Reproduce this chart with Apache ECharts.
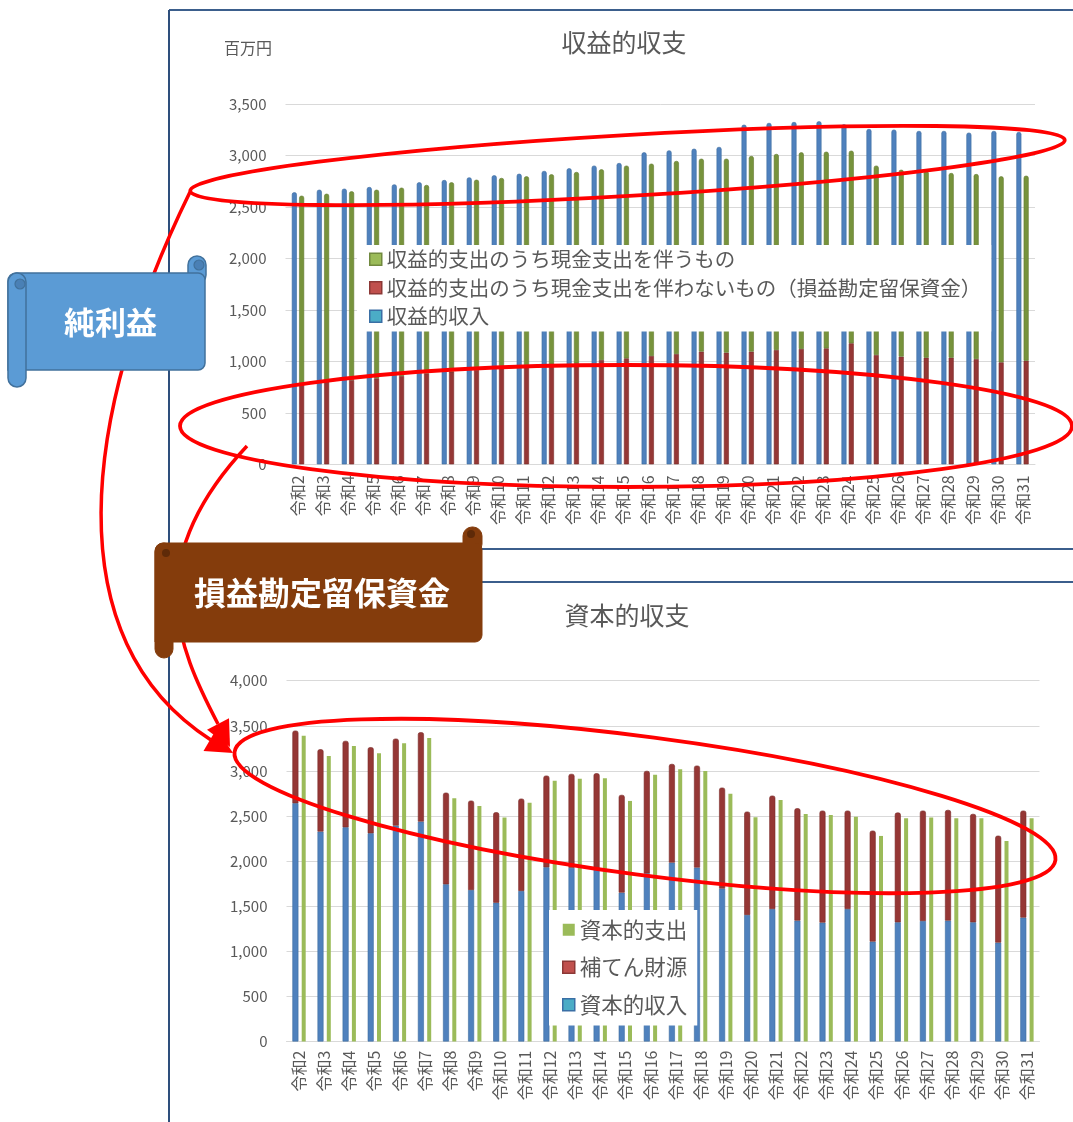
<!DOCTYPE html>
<html><head><meta charset="utf-8">
<script src="https://cdn.jsdelivr.net/npm/echarts@6/dist/echarts.min.js"></script>
<style>html,body{margin:0;padding:0;background:#fff}#c{width:1073px;height:1122px}</style>
</head><body><div id="c"></div>
<script>
const categories = ['令和2','令和3','令和4','令和5','令和6','令和7','令和8','令和9','令和10','令和11','令和12','令和13','令和14','令和15','令和16','令和17','令和18','令和19','令和20','令和21','令和22','令和23','令和24','令和25','令和26','令和27','令和28','令和29','令和30','令和31'];

// 収益的収支 (百万円)
const revIncome  = [2641,2666,2676,2692,2718,2738,2760,2786,2806,2821,2848,2874,2900,2925,3029,3048,3064,3081,3297,3314,3323,3330,3301,3255,3249,3236,3236,3220,3236,3226];
const revNonCash = [786,802,818,835,857,883,899,916,932,948,971,981,1013,1029,1052,1071,1094,1084,1094,1110,1120,1126,1175,1061,1045,1035,1035,1022,990,1006];
const revCash    = [1822,1825,1833,1831,1829,1829,1839,1847,1848,1848,1845,1857,1851,1871,1867,1874,1873,1883,1899,1903,1909,1909,1870,1839,1815,1813,1793,1796,1806,1796];

// 資本的収支 (百万円)
const capIncome     = [2642,2327,2375,2309,2393,2438,1743,1680,1539,1669,1932,1925,1913,1650,1865,1983,1928,1695,1403,1469,1340,1318,1469,1107,1322,1336,1340,1322,1096,1373];
const capSupplement = [805,913,958,954,965,991,1016,991,1003,1024,1016,1042,1061,1084,1135,1094,1131,1120,1146,1257,1246,1242,1091,1231,1216,1224,1227,1201,1186,1187];
const capExpense    = [3391,3166,3277,3196,3307,3366,2697,2612,2482,2648,2892,2914,2919,2667,2956,3018,3000,2748,2486,2678,2523,2512,2493,2279,2475,2482,2475,2475,2223,2475];

const revTicks = {min:0, max:3500, interval:500};
const capTicks = {min:0, max:4000, interval:500};

const FONT = '"Noto Sans CJK JP", "Noto Sans", sans-serif';
const GRAY = '#595959';
const N_REV_CASH = '収益的支出のうち現金支出を伴うもの';
const N_REV_NON = '収益的支出のうち現金支出を伴わないもの（損益勘定留保資金）';
const N_REV_IN = '収益的収入';
const N_CAP_EX = '資本的支出';
const N_CAP_SUP = '補てん財源';
const N_CAP_IN = '資本的収入';

function yAxis(t, gi){
  return {type:'value', gridIndex:gi, min:t.min, max:t.max, interval:t.interval,
    axisLine:{show:false}, axisTick:{show:false},
    splitLine:{lineStyle:{color:'#D9D9D9', width:1}},
    axisLabel:{color:GRAY, fontSize:15, fontFamily:FONT, margin:19,
      formatter:v=>v.toLocaleString('en-US')}};
}
function xAxis(gi, margin){
  return {type:'category', gridIndex:gi, data:categories,
    axisLine:{lineStyle:{color:'#D9D9D9'}}, axisTick:{show:false},
    axisLabel:{interval:0, rotate:90, color:GRAY, fontSize:16, fontFamily:FONT, margin:margin}};
}

const RED_STROKE = {stroke:'#FF0000', lineWidth:3.8, fill:null};

const option = {
  animation:false,
  backgroundColor:'#fff',
  grid:[
    {left:285.5, right:38, top:103.8, height:360.5},
    {left:286.5, right:33.5, top:680.7, height:360.8}
  ],
  xAxis:[xAxis(0,11), xAxis(1,9)],
  yAxis:[yAxis(revTicks,0), yAxis(capTicks,1)],
  legend:[
    {orient:'vertical', left:357, top:245, padding:[4,10,5,12], itemGap:8,
     itemWidth:12, itemHeight:12, icon:'rect', backgroundColor:'#fff', selectedMode:false,
     textStyle:{color:GRAY, fontSize:20.5, fontFamily:FONT},
     data:[
       {name:N_REV_CASH, itemStyle:{color:'#9BBB59', borderColor:'#71893F', borderWidth:1.5}},
       {name:N_REV_NON, itemStyle:{color:'#C0504D', borderColor:'#8C3836', borderWidth:1.5}},
       {name:N_REV_IN, itemStyle:{color:'#4BACC6', borderColor:'#3A6FA5', borderWidth:1.5}}
     ]},
    {orient:'vertical', left:549, top:910, padding:[9,10,10,13], itemGap:16,
     itemWidth:12, itemHeight:12, icon:'rect', backgroundColor:'#fff', selectedMode:false,
     textStyle:{color:GRAY, fontSize:21.5, fontFamily:FONT},
     data:[
       {name:N_CAP_EX, itemStyle:{color:'#9BBB59', borderColor:'#9BBB59', borderWidth:0}},
       {name:N_CAP_SUP, itemStyle:{color:'#C0504D', borderColor:'#8C3836', borderWidth:1.5}},
       {name:N_CAP_IN, itemStyle:{color:'#4BACC6', borderColor:'#3A6FA5', borderWidth:1.5}}
     ]}
  ],
  series:[
    {name:N_REV_IN, type:'bar', xAxisIndex:0, yAxisIndex:0, data:revIncome, barWidth:5, barGap:'46%',
     itemStyle:{color:'#4F81BD', borderColor:'#3D6BA0', borderWidth:0.6, borderRadius:[2,2,0,0]}},
    {name:N_REV_NON, type:'bar', xAxisIndex:0, yAxisIndex:0, stack:'rev', data:revNonCash, barWidth:5, barGap:'46%',
     itemStyle:{color:'#953735', borderColor:'#7A2C2A', borderWidth:0.6}},
    {name:N_REV_CASH, type:'bar', xAxisIndex:0, yAxisIndex:0, stack:'rev', data:revCash, barWidth:5, barGap:'46%',
     itemStyle:{color:'#77933C', borderColor:'#637B31', borderWidth:0.6, borderRadius:[2,2,0,0]}},
    {name:N_CAP_IN, type:'bar', xAxisIndex:1, yAxisIndex:1, stack:'cap', data:capIncome, barWidth:6, barGap:'55%',
     itemStyle:{color:'#4F81BD', borderColor:'#3D6BA0', borderWidth:0.6}},
    {name:N_CAP_SUP, type:'bar', xAxisIndex:1, yAxisIndex:1, stack:'cap', data:capSupplement, barWidth:6, barGap:'55%',
     itemStyle:{color:'#953735', borderColor:'#7A2C2A', borderWidth:0.6, borderRadius:[2,2,0,0]}},
    {name:N_CAP_EX, type:'bar', xAxisIndex:1, yAxisIndex:1, data:capExpense, barWidth:4, barGap:'55%',
     itemStyle:{color:'#9BBB59'}}
  ],
  graphic:{elements:[
    // chart frames
    {type:'line', z:90, shape:{x1:169,y1:10,x2:1073,y2:10}, style:{stroke:'#3B5E8C', lineWidth:2}},
    {type:'line', z:90, shape:{x1:169,y1:10,x2:169,y2:549}, style:{stroke:'#2E4F7C', lineWidth:2}},
    {type:'line', z:90, shape:{x1:169,y1:549,x2:1073,y2:549}, style:{stroke:'#3B5E8C', lineWidth:2}},
    {type:'line', z:90, shape:{x1:169,y1:582,x2:1073,y2:582}, style:{stroke:'#3B5E8C', lineWidth:2}},
    {type:'line', z:90, shape:{x1:169,y1:582,x2:169,y2:1122}, style:{stroke:'#2E4F7C', lineWidth:2}},
    // titles
    {type:'text', z:95, x:624, y:42, style:{text:'収益的収支', fontSize:25, fontFamily:FONT, fill:GRAY, align:'center', verticalAlign:'middle'}},
    {type:'text', z:95, x:627, y:615, style:{text:'資本的収支', fontSize:25, fontFamily:FONT, fill:GRAY, align:'center', verticalAlign:'middle'}},
    {type:'text', z:95, x:248, y:48, style:{text:'百万円', fontSize:16, fontFamily:FONT, fill:GRAY, align:'center', verticalAlign:'middle'}},
    // red ellipses
    {type:'ellipse', z:100, x:627.5, y:165.5, rotation:3.33*Math.PI/180, shape:{cx:0, cy:0, rx:438, ry:30.5}, style:RED_STROKE},
    {type:'ellipse', z:100, x:626, y:426, shape:{cx:0, cy:0, rx:446, ry:61}, style:RED_STROKE},
    {type:'ellipse', z:100, x:645, y:806, rotation:-7.5*Math.PI/180, shape:{cx:0, cy:0, rx:414, ry:69}, style:RED_STROKE},
    // arrows
    {type:'bezierCurve', z:100, shape:{x1:190,y1:192,cpx1:80,cpy1:417,cpx2:56,cpy2:640,x2:210.6,y2:739.7}, style:{stroke:'#FF0000', lineWidth:3.5, fill:null}},
    {type:'polygon', z:100, shape:{points:[[233,753],[203.5,751],[216.7,728.4]]}, style:{fill:'#FF0000'}},
    {type:'bezierCurve', z:100, shape:{x1:247,y1:446,cpx1:140,cpy1:560,cpx2:176.6,cpy2:644.8,x2:218,y2:724}, style:{stroke:'#FF0000', lineWidth:3.5, fill:null}},
    {type:'polygon', z:100, shape:{points:[[230,747],[207,729.8],[229,718.2]]}, style:{fill:'#FF0000'}},
    // blue scroll 純利益
    {type:'rect', z:110, shape:{x:188,y:256,width:18,height:28,r:9}, style:{fill:'#5B9BD5', stroke:'#41719C', lineWidth:1.5}},
    {type:'rect', z:111, shape:{x:8,y:273,width:197,height:97,r:[8,7,7,0]}, style:{fill:'#5B9BD5', stroke:'#41719C', lineWidth:1.5}},
    {type:'rect', z:112, shape:{x:8,y:273,width:18,height:114,r:9}, style:{fill:'#5B9BD5', stroke:'#41719C', lineWidth:1.5}},
    {type:'circle', z:113, shape:{cx:20,cy:284,r:5}, style:{fill:'#4A80B5', stroke:'#41719C', lineWidth:1.2}},
    {type:'circle', z:113, shape:{cx:199,cy:265,r:5}, style:{fill:'#4A80B5', stroke:'#41719C', lineWidth:1.2}},
    {type:'text', z:114, x:110.5, y:322, style:{text:'純利益', fontSize:31, fontWeight:'bold', fontFamily:FONT, fill:'#fff', align:'center', verticalAlign:'middle'}},
    // brown scroll 損益勘定留保資金
    {type:'rect', z:110, shape:{x:463,y:527,width:19,height:26,r:9}, style:{fill:'#843C0C', stroke:'#843C0C', lineWidth:1}},
    {type:'rect', z:111, shape:{x:155,y:543,width:327,height:99,r:[8,7,7,0]}, style:{fill:'#843C0C', stroke:'#843C0C', lineWidth:1}},
    {type:'rect', z:112, shape:{x:155,y:543,width:18,height:115,r:9}, style:{fill:'#843C0C', stroke:'#843C0C', lineWidth:1}},
    {type:'circle', z:113, shape:{cx:166,cy:553,r:4}, style:{fill:'#5E2A08'}},
    {type:'circle', z:113, shape:{cx:471,cy:534,r:4}, style:{fill:'#5E2A08'}},
    {type:'text', z:114, x:322, y:593, style:{text:'損益勘定留保資金', fontSize:32, fontWeight:'bold', fontFamily:FONT, fill:'#fff', align:'center', verticalAlign:'middle'}}
  ]}
};

const chart = echarts.init(document.getElementById('c'), null, {renderer:'canvas'});
chart.setOption(option);
</script>
</body></html>
